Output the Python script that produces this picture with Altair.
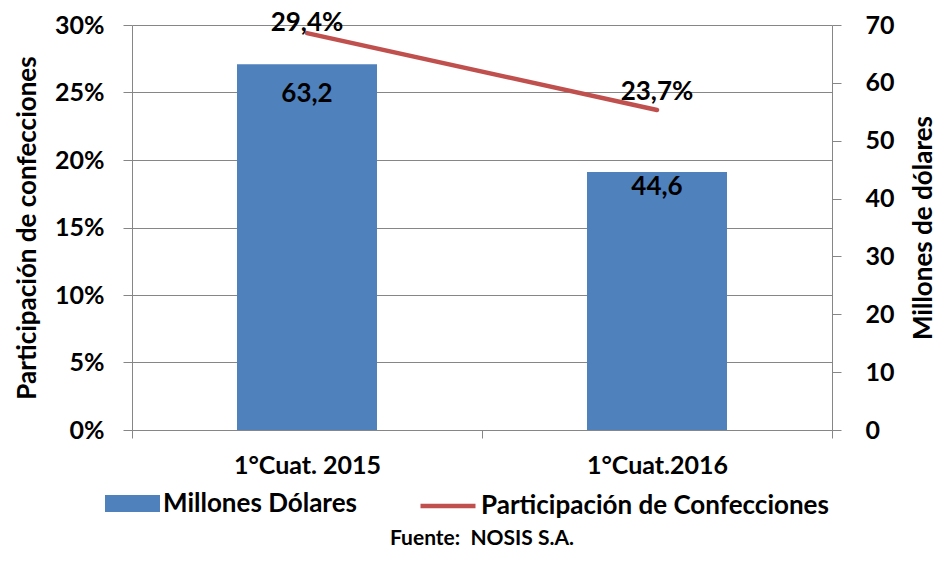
import altair as alt
import pandas as pd

periodos = ["1°Cuat. 2015", "1°Cuat.2016"]
millones = [63.2, 44.6]
participacion = [0.294, 0.237]

serie_barras = "Millones Dólares"
serie_linea = "Participación de Confecciones"
fuente = "Fuente:\u00a0\u00a0NOSIS S.A."

df = pd.DataFrame({
    "periodo": periodos,
    "millones": millones,
    "participacion": participacion,
    "lbl_m": [f"{v:.1f}".replace(".", ",") for v in millones],
    "lbl_p": [f"{v*100:.1f}".replace(".", ",") + "%" for v in participacion],
})

FONT = "Lato"
FS_TICK = 25
FS_CAT = 25
FS_LBL = 26
FS_TITLE = 26
FS_LEG = 26
GREY = "#868686"
BLUE = "#4F81BD"
RED = "#C0504D"

x_axis = alt.X(
    "periodo:N",
    sort=periodos,
    scale=alt.Scale(paddingInner=0, paddingOuter=0),
    axis=alt.Axis(
        title=None, labelAngle=0, tickBand="extent", tickSize=8,
        labelPadding=15, labelFontSize=FS_CAT, labelFont=FONT, labelFontWeight="bold",
        labelColor="black", domainColor=GREY, tickColor=GREY, grid=False,
    ),
)

y_m = alt.Y(
    "millones:Q",
    scale=alt.Scale(domain=[0, 70]),
    axis=alt.Axis(
        orient="right", values=list(range(0, 71, 10)), grid=False,
        title="Millones de dólares", titleAngle=270, titlePadding=42,
        titleFontSize=FS_TITLE, titleFont=FONT, titleFontWeight="bold", titleColor="black",
        labelFontSize=FS_TICK, labelFont=FONT, labelFontWeight="bold", labelColor="black",
        labelPadding=24, tickSize=9, domainColor=GREY, tickColor=GREY,
    ),
)

y_p = alt.Y(
    "participacion:Q",
    scale=alt.Scale(domain=[0, 0.30]),
    axis=alt.Axis(
        orient="left", values=[0, 0.05, 0.10, 0.15, 0.20, 0.25, 0.30], format=".0%",
        grid=True, gridColor=GREY, gridWidth=1,
        title="Participación de confecciones", titlePadding=14,
        titleFontSize=FS_TITLE, titleFont=FONT, titleFontWeight="bold", titleColor="black",
        labelFontSize=FS_TICK, labelFont=FONT, labelFontWeight="bold", labelColor="black",
        labelPadding=19, tickSize=9, domainColor=GREY, tickColor=GREY,
    ),
)

base_m = alt.Chart(df).encode(x=x_axis, y=y_m)
base_p = alt.Chart(df).encode(x=x_axis, y=y_p)

bars = base_m.transform_calculate(serie=f"'{serie_barras}'").mark_bar(
    width=alt.RelativeBandSize(0.4)
).encode(
    fill=alt.Fill(
        "serie:N",
        scale=alt.Scale(domain=[serie_barras], range=[BLUE]),
        legend=alt.Legend(
            orient="none", legendX=-27, legendY=451, direction="horizontal",
            title=None, padding=0, symbolType="M-1,-0.31H1V0.31H-1Z", symbolSize=3025,
            symbolStrokeWidth=0, symbolOpacity=1, labelOffset=3, labelLimit=0,
            labelFontSize=FS_LEG, labelFont=FONT, labelFontWeight="bold", labelColor="black",
        ),
    ),
)

bar_text_1 = base_m.transform_filter(alt.datum.periodo == periodos[0]).mark_text(
    dy=30, fontSize=FS_LBL, font=FONT, fontWeight="bold", color="black"
).encode(text="lbl_m:N")
bar_text_2 = base_m.transform_filter(alt.datum.periodo == periodos[1]).mark_text(
    dy=15, fontSize=FS_LBL, font=FONT, fontWeight="bold", color="black"
).encode(text="lbl_m:N")

line = base_p.transform_calculate(serie=f"'{serie_linea}'").mark_line(
    strokeWidth=4.5, strokeCap="round"
).encode(
    stroke=alt.Stroke(
        "serie:N",
        scale=alt.Scale(domain=[serie_linea], range=[RED]),
        legend=alt.Legend(
            orient="none", legendX=286, legendY=451, direction="horizontal",
            title=None, padding=0, symbolType="stroke", symbolSize=3025,
            symbolStrokeWidth=4.5, labelOffset=3, labelLimit=0,
            labelFontSize=FS_LEG, labelFont=FONT, labelFontWeight="bold", labelColor="black",
        ),
    ),
)

line_text_1 = base_p.transform_filter(alt.datum.periodo == periodos[0]).mark_text(
    dy=-10, fontSize=FS_LBL, font=FONT, fontWeight="bold", color="black"
).encode(text="lbl_p:N")
line_text_2 = base_p.transform_filter(alt.datum.periodo == periodos[1]).mark_text(
    dy=-18, fontSize=FS_LBL, font=FONT, fontWeight="bold", color="black"
).encode(text="lbl_p:N")

capa_barras = alt.layer(bars, bar_text_1, bar_text_2)
capa_linea = alt.layer(line, line_text_1, line_text_2)

chart = alt.layer(capa_barras, capa_linea).resolve_scale(
    y="independent"
).properties(
    width=700,
    height=405,
    autosize="none",
    padding={"left": 124, "top": 17, "right": 106, "bottom": 120},
    title=alt.TitleParams(
        fuente, orient="bottom", anchor="middle", offset=9,
        fontSize=21, font=FONT, fontWeight="bold", color="black",
    ),
).configure_view(stroke=None)

chart.save("out.html", embed_options={"renderer": "svg", "actions": False})
